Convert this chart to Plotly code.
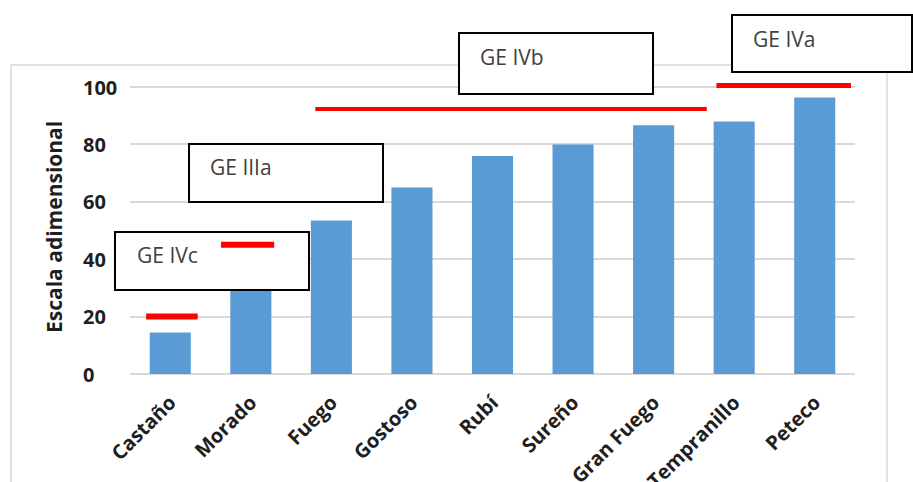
import plotly.graph_objects as go

# Cultivars and their score on the dimensionless scale
cultivares = ["Castaño", "Morado", "Fuego", "Gostoso", "Rubí", "Sureño",
              "Gran Fuego", "Tempranillo", "Peteco"]
valores = [14.5, 33, 53.5, 65, 76, 80, 86.7, 88, 96.3]

# Y axis ticks
y_ticks = [0, 20, 40, 60, 80, 100]
y_tick_labels = ["0", "20", "40", "60", "80", "100"]

# Group reference levels: label, span over the category axis, level
grupos = ["GE IVc", "GE IIIa", "GE IVb", "GE IVa"]
grupo_x0 = [-0.3, 0.63, 1.8, 6.78]
grupo_x1 = [0.34, 1.29, 6.66, 8.45]
grupo_nivel = [20, 45, 92.3, 100.5]
grupo_ancho = [6, 6, 4, 5]

# Figure geometry (pixels)
W, H = 913, 482
ML, MR, MT, MB = 130, 58, 73, 108
PX_PER_UNIT = 2.87
Y_TOP = (H - MT - MB) / PX_PER_UNIT

TXT = "#1f1f1f"


def px(x):
    return (x - ML) / (W - ML - MR)


def py(y):
    return (H - MB - y) / (H - MT - MB)


fig = go.Figure()
fig.add_trace(go.Bar(
    x=cultivares, y=valores, marker=dict(color="#5B9BD5", line=dict(width=0)),
    width=0.51, hoverinfo="x+y"))

shapes = []
# light chart-area frame
shapes.append(dict(type="rect", xref="paper", yref="paper",
                   x0=px(11), x1=px(887), y0=py(495), y1=py(65),
                   line=dict(color="#D9D9D9", width=1.5), layer="below"))

# group label boxes (pixel positions of each box)
cajas = [(115, 232, 309, 290), (189, 144, 383, 202),
         (459, 33, 653, 94), (732, 15, 912, 72)]
textos = [(135, 255), (208, 167), (478, 57), (751, 39)]
for (x0, y0, x1, y1) in cajas:
    shapes.append(dict(type="rect", xref="paper", yref="paper",
                       x0=px(x0), x1=px(x1), y0=py(y1), y1=py(y0),
                       line=dict(color="#000000", width=2),
                       fillcolor="white", layer="above"))

# red group level lines
for x0, x1, lvl, w in zip(grupo_x0, grupo_x1, grupo_nivel, grupo_ancho):
    shapes.append(dict(type="line", xref="x", yref="y",
                       x0=x0, x1=x1, y0=lvl, y1=lvl,
                       line=dict(color="#FF0000", width=w), layer="above"))

annotations = []
for g, (tx, ty) in zip(grupos, textos):
    annotations.append(dict(text=g, xref="paper", yref="paper",
                            x=px(tx), y=py(ty), xanchor="left", yanchor="middle",
                            showarrow=False,
                            font=dict(family="Open Sans", size=21, color="#404040")))

# left-aligned value labels for the y axis
for v, lab in zip(y_ticks, y_tick_labels):
    annotations.append(dict(text="<b>" + lab + "</b>", xref="paper", yref="y",
                            x=px(81), y=v, xanchor="left", yanchor="middle",
                            showarrow=False,
                            font=dict(family="Open Sans", size=20, color=TXT)))

annotations.append(dict(text="<b>Escala adimensional</b>", xref="paper", yref="paper",
                        x=px(54), y=py(227), xanchor="center", yanchor="middle",
                        textangle=-90, showarrow=False,
                        font=dict(family="Open Sans", size=21, color=TXT)))

fig.update_layout(
    width=W, height=H,
    margin=dict(l=ML, r=MR, t=MT, b=MB, pad=0, autoexpand=False),
    paper_bgcolor="white", plot_bgcolor="white",
    showlegend=False, bargap=0.49,
    shapes=shapes, annotations=annotations,
    font=dict(family="Open Sans"),
)
fig.update_yaxes(
    range=[0, Y_TOP], tickvals=y_ticks, showticklabels=False,
    showgrid=True, gridcolor="#D9D9D9", gridwidth=1.5,
    zeroline=True, zerolinecolor="#D9D9D9", zerolinewidth=1.5,
    showline=False, ticks="", automargin=False,
)
fig.update_xaxes(
    range=[-0.5, 8.5], showgrid=False, showline=False, ticks="",
    tickangle=-45, ticklabelstandoff=12, automargin=False,
    tickfont=dict(family="Open Sans", size=20, color=TXT, weight="bold"),
)

fig.write_html("out.html")
